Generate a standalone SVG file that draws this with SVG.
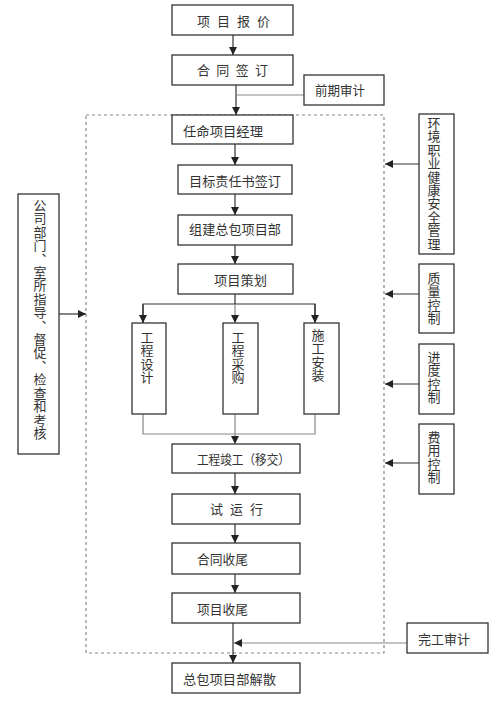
<svg xmlns="http://www.w3.org/2000/svg" width="500" height="702" viewBox="0 0 500 702">
<defs>
<style>
.box{fill:#fff;stroke:#333;stroke-width:1.3}
.t{font-family:"Noto Sans CJK SC","Liberation Sans",sans-serif;font-size:13px;fill:#333}
.v{writing-mode:vertical-rl;letter-spacing:0.4px;font-feature-settings:"vert" 0}
.ln{fill:none;stroke:#333;stroke-width:1.2}
.lg{fill:none;stroke:#888;stroke-width:1.2}
.dash{fill:none;stroke:#888;stroke-width:1.2;stroke-dasharray:3,3}
</style>
<marker id="ah" viewBox="0 0 10 10" refX="10" refY="5" markerWidth="8" markerHeight="8" markerUnits="userSpaceOnUse" orient="auto">
<path d="M0,0 L10,5 L0,10 Z" fill="#222"/>
</marker>
</defs>
<rect width="500" height="702" fill="#fff"/>

<g id="boundary"><rect class="dash" x="86" y="115" width="298" height="538"/></g>

<g id="connectors">
<line class="ln" x1="233" y1="35" x2="233" y2="55" marker-end="url(#ah)"/>
<line class="ln" x1="236" y1="85" x2="236" y2="115" marker-end="url(#ah)"/>
<line class="lg" x1="236" y1="95" x2="304" y2="95"/>
<line class="ln" x1="235" y1="144" x2="235" y2="165" marker-end="url(#ah)"/>
<line class="ln" x1="235" y1="194" x2="235" y2="215" marker-end="url(#ah)"/>
<line class="ln" x1="235" y1="245" x2="235" y2="264" marker-end="url(#ah)"/>
<line class="ln" x1="235" y1="294" x2="235" y2="304"/>
<polyline class="ln" points="143,323 143,304 315,304 315,323"/>
<line class="ln" x1="143" y1="304" x2="143" y2="323" marker-end="url(#ah)"/>
<line class="ln" x1="315" y1="304" x2="315" y2="323" marker-end="url(#ah)"/>
<line class="lg" x1="235" y1="304" x2="235" y2="323" marker-end="url(#ah)"/>
<polyline class="lg" points="143,414 143,434 315,434 315,414"/>
<line class="lg" x1="235" y1="414" x2="235" y2="444" marker-end="url(#ah)"/>
<line class="ln" x1="235" y1="473" x2="235" y2="494" marker-end="url(#ah)"/>
<line class="ln" x1="235" y1="524" x2="235" y2="543" marker-end="url(#ah)"/>
<line class="ln" x1="235" y1="574" x2="235" y2="593" marker-end="url(#ah)"/>
<line class="ln" x1="233" y1="623" x2="233" y2="663" marker-end="url(#ah)"/>
<line class="lg" x1="407" y1="643" x2="234" y2="643" marker-end="url(#ah)"/>
<line class="ln" x1="59" y1="314" x2="86" y2="314" marker-end="url(#ah)"/>
<line class="ln" x1="419" y1="164" x2="385" y2="164" marker-end="url(#ah)"/>
<line class="ln" x1="419" y1="294" x2="385" y2="294" marker-end="url(#ah)"/>
<line class="ln" x1="419" y1="384" x2="385" y2="384" marker-end="url(#ah)"/>
<line class="ln" x1="419" y1="463" x2="385" y2="463" marker-end="url(#ah)"/>
</g>

<g id="n1"><rect class="box" x="172" y="5" width="121" height="30"/><text class="t" x="197" y="25.5" textLength="73" lengthAdjust="spacing">项 目 报 价</text></g>
<g id="n2"><rect class="box" x="172" y="55" width="121" height="30"/><text class="t" x="197" y="75" textLength="71" lengthAdjust="spacing">合 同 签 订</text></g>
<g id="n3"><rect class="box" x="304" y="75" width="80" height="30"/><text class="t" x="315" y="95" textLength="50" lengthAdjust="spacingAndGlyphs">前期审计</text></g>
<g id="n4"><rect class="box" x="172" y="115" width="121" height="29"/><text class="t" x="183" y="135.5" textLength="80" lengthAdjust="spacingAndGlyphs">任命项目经理</text></g>
<g id="n5"><rect class="box" x="178" y="165" width="114" height="29"/><text class="t" x="189" y="185.5" textLength="92" lengthAdjust="spacingAndGlyphs">目标责任书签订</text></g>
<g id="n6"><rect class="box" x="178" y="215" width="114" height="30"/><text class="t" x="189" y="234" textLength="92" lengthAdjust="spacingAndGlyphs">组建总包项目部</text></g>
<g id="n7"><rect class="box" x="178" y="264" width="115" height="30"/><text class="t" x="214" y="284.5" textLength="53" lengthAdjust="spacingAndGlyphs">项目策划</text></g>
<g id="n8"><rect class="box" x="132" y="323" width="34" height="91"/><text class="t v" x="147" y="330.5"><tspan>工</tspan><tspan>程</tspan><tspan>设</tspan><tspan>计</tspan></text></g>
<g id="n9"><rect class="box" x="223" y="323" width="35" height="91"/><text class="t v" x="238" y="330.5"><tspan>工</tspan><tspan>程</tspan><tspan>采</tspan><tspan>购</tspan></text></g>
<g id="n10"><rect class="box" x="304" y="323" width="35" height="91"/><text class="t v" x="318" y="328.5"><tspan>施</tspan><tspan>工</tspan><tspan>安</tspan><tspan>装</tspan></text></g>
<g id="n11"><rect class="box" x="172" y="444" width="128" height="29"/><text class="t" x="197" y="463.5" textLength="93" lengthAdjust="spacingAndGlyphs">工程竣工（移交）</text></g>
<g id="n12"><rect class="box" x="172" y="494" width="128" height="30"/><text class="t" x="210" y="513.5" textLength="53" lengthAdjust="spacing">试 运 行</text></g>
<g id="n13"><rect class="box" x="172" y="543" width="128" height="31"/><text class="t" x="197" y="563.5" textLength="51" lengthAdjust="spacingAndGlyphs">合同收尾</text></g>
<g id="n14"><rect class="box" x="172" y="593" width="128" height="30"/><text class="t" x="197" y="613.5" textLength="51" lengthAdjust="spacingAndGlyphs">项目收尾</text></g>
<g id="n15"><rect class="box" x="172" y="663" width="128" height="30"/><text class="t" x="183" y="683.5" textLength="93" lengthAdjust="spacingAndGlyphs">总包项目部解散</text></g>
<g id="n16"><rect class="box" x="407" y="623" width="81" height="30"/><text class="t" x="418" y="643.5" textLength="52" lengthAdjust="spacingAndGlyphs">完工审计</text></g>
<g id="n17"><rect class="box" x="18" y="194" width="41" height="260"/><text class="t v" x="40" y="198.5"><tspan>公</tspan><tspan>司</tspan><tspan>部</tspan><tspan>门</tspan><tspan>、</tspan><tspan>室</tspan><tspan>所</tspan><tspan>指</tspan><tspan>导</tspan><tspan>、</tspan><tspan>督</tspan><tspan>促</tspan><tspan>、</tspan><tspan>检</tspan><tspan>查</tspan><tspan>和</tspan><tspan>考</tspan><tspan>核</tspan></text></g>
<g id="n18"><rect class="box" x="419" y="114" width="35" height="140"/><text class="t v" x="434" y="116.5" letter-spacing="0.2"><tspan>环</tspan><tspan>境</tspan><tspan>职</tspan><tspan>业</tspan><tspan>健</tspan><tspan>康</tspan><tspan>安</tspan><tspan>全</tspan><tspan>管</tspan><tspan>理</tspan></text></g>
<g id="n19"><rect class="box" x="419" y="264" width="35" height="69"/><text class="t v" x="434" y="271.5"><tspan>质</tspan><tspan>量</tspan><tspan>控</tspan><tspan>制</tspan></text></g>
<g id="n20"><rect class="box" x="419" y="344" width="35" height="70"/><text class="t v" x="434" y="350.5"><tspan>进</tspan><tspan>度</tspan><tspan>控</tspan><tspan>制</tspan></text></g>
<g id="n21"><rect class="box" x="419" y="424" width="35" height="70"/><text class="t v" x="434" y="430.5"><tspan>费</tspan><tspan>用</tspan><tspan>控</tspan><tspan>制</tspan></text></g>
</svg>
